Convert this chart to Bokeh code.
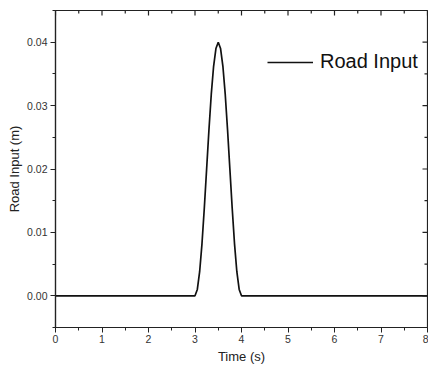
import math
from bokeh.plotting import figure
from bokeh.models import LinearAxis, FixedTicker, NumeralTickFormatter, Legend, LegendItem, ColumnDataSource
from bokeh.embed import file_html
from bokeh.resources import INLINE

# Data
time_s = [0.0, 3.00, 3.05, 3.10, 3.15, 3.20, 3.25, 3.30, 3.35, 3.40, 3.45, 3.50,
          3.55, 3.60, 3.65, 3.70, 3.75, 3.80, 3.85, 3.90, 3.95, 4.00, 8.0]
road_input_m = [0.0, 0.0, 0.0010, 0.0038, 0.0082, 0.0138, 0.0200, 0.0262, 0.0318, 0.0362, 0.0390, 0.0400,
                0.0390, 0.0362, 0.0318, 0.0262, 0.0200, 0.0138, 0.0082, 0.0038, 0.0010, 0.0, 0.0]

x_ticks = [0, 1, 2, 3, 4, 5, 6, 7, 8]
x_minor = [0.5, 1.5, 2.5, 3.5, 4.5, 5.5, 6.5, 7.5]
y_ticks = [0.0, 0.01, 0.02, 0.03, 0.04]
y_minor = [-0.005, 0.005, 0.015, 0.025, 0.035, 0.045]
series_name = "Road Input"

X_MIN, X_MAX = 0, 8
Y_MIN, Y_MAX = -0.005, 0.045

FONT = "Liberation Sans"
AX = "#222222"

p = figure(width=428, height=366, x_range=(X_MIN, X_MAX), y_range=(Y_MIN, Y_MAX),
           output_backend="svg", toolbar_location=None,
           min_border_left=55, min_border_right=1, min_border_top=10, min_border_bottom=38,
           x_axis_location=None, y_axis_location=None)
p.xgrid.visible = False
p.ygrid.visible = False
p.outline_line_color = AX
p.outline_line_width = 1.2
p.background_fill_color = "white"
p.border_fill_color = "white"

src = ColumnDataSource(dict(t=time_s, y=road_input_m))
r = p.line("t", "y", source=src, line_color="#111111", line_width=1.7)

def style(ax):
    ax.axis_line_color = AX
    ax.axis_line_width = 1.2
    ax.major_tick_line_color = AX
    ax.minor_tick_line_color = AX
    ax.major_tick_out = 5
    ax.major_tick_in = 0
    ax.minor_tick_out = 3
    ax.minor_tick_in = 0
    ax.major_label_text_font = FONT
    ax.major_label_text_font_size = "10.5px"
    ax.major_label_text_color = "#333333"
    ax.axis_label_text_font = FONT
    ax.axis_label_text_font_size = "13px"
    ax.axis_label_text_font_style = "normal"
    ax.axis_label_text_color = "#222222"

xb = LinearAxis(ticker=FixedTicker(ticks=x_ticks, minor_ticks=x_minor), axis_label="Time (s)")
style(xb)
xb.major_label_standoff = 2
xb.axis_label_standoff = 3
p.add_layout(xb, "below")

yl = LinearAxis(ticker=FixedTicker(ticks=y_ticks, minor_ticks=y_minor), axis_label="Road Input (m)",
                formatter=NumeralTickFormatter(format="0.00"))
style(yl)
yl.major_label_standoff = 3
yl.axis_label_standoff = 2
p.add_layout(yl, "left")

# mirrored inward ticks on the top and right edges (markers centred on the frame edge, clipped by the frame)
p.scatter(x=x_ticks, y=[Y_MAX] * len(x_ticks), marker="dash", angle=math.pi / 2, size=10,
          line_color=AX, line_width=1.2)
p.scatter(x=x_minor, y=[Y_MAX] * len(x_minor), marker="dash", angle=math.pi / 2, size=6,
          line_color=AX, line_width=1.2)
p.scatter(x=[X_MAX] * len(y_ticks), y=y_ticks, marker="dash", size=10,
          line_color=AX, line_width=1.2)
p.scatter(x=[X_MAX] * len(y_minor), y=y_minor, marker="dash", size=6,
          line_color=AX, line_width=1.2)

legend = Legend(items=[LegendItem(label=series_name, renderers=[r])],
                location=(212, 254), border_line_color=None, background_fill_alpha=0,
                label_text_font=FONT, label_text_font_size="20px", label_text_color="#111111",
                glyph_width=46, glyph_height=20, label_height=20, label_standoff=7,
                padding=4, margin=0, spacing=0)
p.add_layout(legend, "center")

open("out.html", "w").write(file_html(p, INLINE))
